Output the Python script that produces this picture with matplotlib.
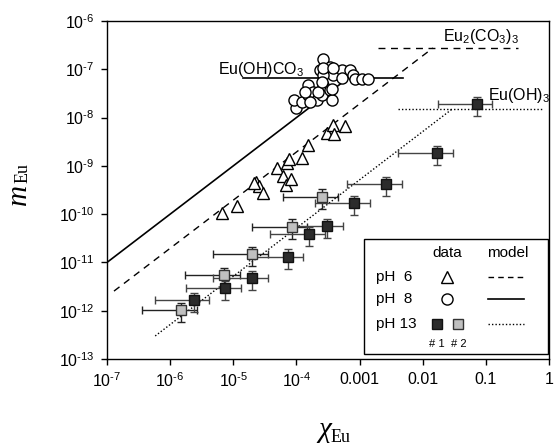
import numpy as np
import matplotlib
matplotlib.use('Agg')
from matplotlib import pyplot as plt
from matplotlib.patches import Rectangle

plt.rcParams['font.family'] = ['Liberation Sans', 'DejaVu Sans']
plt.rcParams['mathtext.fontset'] = 'custom'
plt.rcParams['mathtext.rm'] = 'Liberation Sans'
plt.rcParams['mathtext.it'] = 'Liberation Sans:italic'

# pH 6 data (triangles)
ph6_x = [6.6e-6, 1.16e-5, 2.29e-5, 2.53e-5, 2.92e-5, 2.13e-5, 4.98e-5, 6.2e-5, 6.84e-5,
         8.1e-5, 7.2e-5, 7.7e-5, 1.21e-4, 1.54e-4, 3.0e-4, 3.84e-4, 3.98e-4, 5.88e-4]
ph6_y = [1.06e-10, 1.48e-10, 4.7e-10, 3.8e-10, 2.8e-10, 4.4e-10, 9.1e-10, 6.2e-10, 4.0e-10,
         5.3e-10, 1.13e-9, 1.37e-9, 1.44e-9, 2.71e-9, 4.73e-9, 7.0e-9, 4.57e-9, 6.7e-9]

# pH 8 data (circles)
ph8_x = [9.8e-5, 9.2e-5, 1.21e-4, 1.54e-4, 1.54e-4, 1.85e-4, 2.09e-4, 2.51e-4, 2.67e-4,
         2.84e-4, 2.67e-4, 2.36e-4, 3.4e-4, 3.4e-4, 3.62e-4, 3.84e-4, 5.2e-4, 5.2e-4,
         7.1e-4, 8.0e-4, 8.5e-4, 1.08e-3, 1.37e-3, 2.67e-4, 2.22e-4, 1.64e-4, 1.37e-4,
         2.67e-4, 3.84e-4, 3.62e-4, 2.51e-4]
ph8_y = [1.56e-8, 2.3e-8, 2.1e-8, 2.9e-8, 4.7e-8, 3.4e-8, 2.3e-8, 2.9e-8, 4.7e-8,
         8.5e-8, 1.6e-7, 9.7e-8, 1.13e-7, 3.7e-8, 2.3e-8, 7.6e-8, 9.7e-8, 6.5e-8,
         9.7e-8, 7.6e-8, 6.2e-8, 6.2e-8, 6.2e-8, 7.6e-8, 3.4e-8, 2.1e-8, 3.4e-8,
         1.05e-7, 1.05e-7, 4.0e-8, 5.5e-8]

# pH 13 data, sample #1 (black) and #2 (grey)
ph13a_x = [2.36e-6, 7.5e-6, 1.96e-5, 7.27e-5, 1.58e-4, 3.08e-4, 8.26e-4, 2.6e-3, 1.67e-2, 7.16e-2]
ph13a_y = [1.68e-12, 2.9e-12, 4.7e-12, 1.32e-11, 3.9e-11, 5.7e-11, 1.68e-10, 4.16e-10, 1.82e-9, 1.88e-8]
ph13b_x = [1.49e-6, 7.13e-6, 2.0e-5, 8.4e-5, 2.54e-4]
ph13b_y = [1.04e-12, 5.5e-12, 1.5e-11, 5.5e-11, 2.3e-10]

# error bar extents in decades (lower, upper)
xerr_dec = (0.62, 0.25)
yerr_dec = (0.25, 0.15)

# model lines: [start, corner] of the rising part and the plateau
m6_x = [1.29e-7, 1.45e-2]
m6_y = [2.55e-12, 2.76e-7]
m6_flat = [1.95e-3, 0.32]
m8_x = [1e-7, 6.6e-4]
m8_y = [1e-11, 6.6e-8]
m8_flat = [1.4e-5, 4.9e-3]
m13_x = [5.8e-7, 3.0e-2]
m13_y = [3.0e-13, 1.54e-8]
m13_flat = [4.1e-3, 0.8]

xticks = [1e-7, 1e-6, 1e-5, 1e-4, 1e-3, 1e-2, 1e-1, 1]
xticklabels = ['$\\mathregular{10^{\u20107}}$', '$\\mathregular{10^{\u20106}}$',
               '$\\mathregular{10^{\u20105}}$', '$\\mathregular{10^{\u20104}}$',
               '0.001', '0.01', '0.1', '1']
yticks = [1e-13, 1e-12, 1e-11, 1e-10, 1e-9, 1e-8, 1e-7, 1e-6]
yticklabels = ['$\\mathregular{10^{\u2010%d}}$' % k for k in [13, 12, 11, 10, 9, 8, 7, 6]]


def errs(v, dec):
    v = np.array(v)
    return [v - v / 10 ** dec[0], v * 10 ** dec[1] - v]


fig = plt.figure(figsize=(5.56, 4.45), dpi=100)
ax = fig.add_axes([107 / 556, 86 / 445, 442 / 556, 338 / 445])
ax.set_xscale('log')
ax.set_yscale('log')
ax.set_xlim(1e-7, 1)
ax.set_ylim(1e-13, 1e-6)

# model lines
ax.plot(m6_x, m6_y, color='black', lw=1, ls=(0, (5, 4)))
ax.plot(m6_flat, [m6_y[1]] * 2, color='black', lw=1, ls=(0, (5, 4)))
ax.plot(m8_x, m8_y, color='black', lw=1.2)
ax.plot(m8_flat, [m8_y[1]] * 2, color='black', lw=1.2)
ax.plot(m13_x, m13_y, color='black', lw=1, ls=(0, (1, 1.5)))
ax.plot(m13_flat, [m13_y[1]] * 2, color='black', lw=1, ls=(0, (1, 1.5)))

# data
ax.errorbar(ph13b_x, ph13b_y, xerr=errs(ph13b_x, xerr_dec), yerr=errs(ph13b_y, yerr_dec),
            fmt='s', ms=7.5, mfc='#c0c0c0', mec='#333333', mew=1, ecolor='#222222',
            elinewidth=1, capsize=3, capthick=1, zorder=3)
ax.errorbar(ph13a_x, ph13a_y, xerr=errs(ph13a_x, xerr_dec), yerr=errs(ph13a_y, yerr_dec),
            fmt='s', ms=7.5, mfc='#2b2b2b', mec='#111111', mew=1, ecolor='#444444',
            elinewidth=1, capsize=3, capthick=1, zorder=3)
ax.plot(ph6_x, ph6_y, '^', ms=8.5, mfc='white', mec='black', mew=1, zorder=4)
ax.plot(ph8_x, ph8_y, 'o', ms=8, mfc='white', mec='black', mew=1, zorder=4)

# compound labels
ax.text(5.7e-6, 8.0e-8, 'Eu(OH)CO$_3$', fontsize=11.5, ha='left', va='baseline')
ax.text(2.1e-2, 3.9e-7, 'Eu$_2$(CO$_3$)$_3$', fontsize=11.5, ha='left', va='baseline')
ax.text(0.108, 2.31e-8, 'Eu(OH)$_3$', fontsize=11.5, ha='left', va='baseline')

ax.set_xticks(xticks)
ax.set_xticklabels(xticklabels, fontsize=11.5)
ax.set_yticks(yticks)
ax.set_yticklabels(yticklabels, fontsize=11.5)
ax.minorticks_off()
ax.tick_params(direction='out', length=4, width=1, top=False, right=False, pad=5)
for s in ax.spines.values():
    s.set_linewidth(1)

# hand-made legend
tr = ax.transAxes
ax.add_patch(Rectangle((0.582, 0.014), 0.416, 0.340, transform=tr, fill=False,
                       lw=1, ec='black', zorder=5))
ax.text(0.770, 0.313, 'data', transform=tr, fontsize=11, ha='center', va='center')
ax.text(0.906, 0.313, 'model', transform=tr, fontsize=11, ha='center', va='center')
ax.text(0.609, 0.242, 'pH  6', transform=tr, fontsize=11, ha='left', va='center')
ax.text(0.609, 0.178, 'pH  8', transform=tr, fontsize=11, ha='left', va='center')
ax.text(0.609, 0.103, 'pH 13', transform=tr, fontsize=11, ha='left', va='center')
ax.plot([0.770], [0.243], '^', transform=tr, ms=8, mfc='white', mec='black', mew=1)
ax.plot([0.770], [0.178], 'o', transform=tr, ms=8, mfc='white', mec='black', mew=1)
ax.plot([0.746], [0.104], 's', transform=tr, ms=7, mfc='#2b2b2b', mec='#111111', mew=1)
ax.plot([0.795], [0.104], 's', transform=tr, ms=7, mfc='#c0c0c0', mec='#333333', mew=1)
ax.text(0.746, 0.044, '# 1', transform=tr, fontsize=8, ha='center', va='center')
ax.text(0.795, 0.044, '# 2', transform=tr, fontsize=8, ha='center', va='center')
ax.plot([0.862, 0.943], [0.243, 0.243], transform=tr, color='black', lw=1, ls=(0, (4, 3)))
ax.plot([0.862, 0.943], [0.178, 0.178], transform=tr, color='black', lw=1.2)
ax.plot([0.862, 0.943], [0.104, 0.104], transform=tr, color='black', lw=1, ls=(0, (1, 1.5)))

# axis labels
fig.text(19 / 556, 1 - 195 / 445, 'm', family='Liberation Serif', style='italic',
         fontsize=21, rotation=90, ha='center', va='center')
fig.text(23 / 556, 1 - 173 / 445, 'Eu', family='Liberation Serif',
         fontsize=13, rotation=90, ha='center', va='center')
fig.text(325 / 556, 1 - 430 / 445, '\u03c7', family='Liberation Serif', style='italic',
         fontsize=21, ha='center', va='center')
fig.text(341 / 556, 1 - 438 / 445, 'Eu', family='Liberation Serif',
         fontsize=13, ha='center', va='center')

fig.savefig('out.png', dpi=100)
